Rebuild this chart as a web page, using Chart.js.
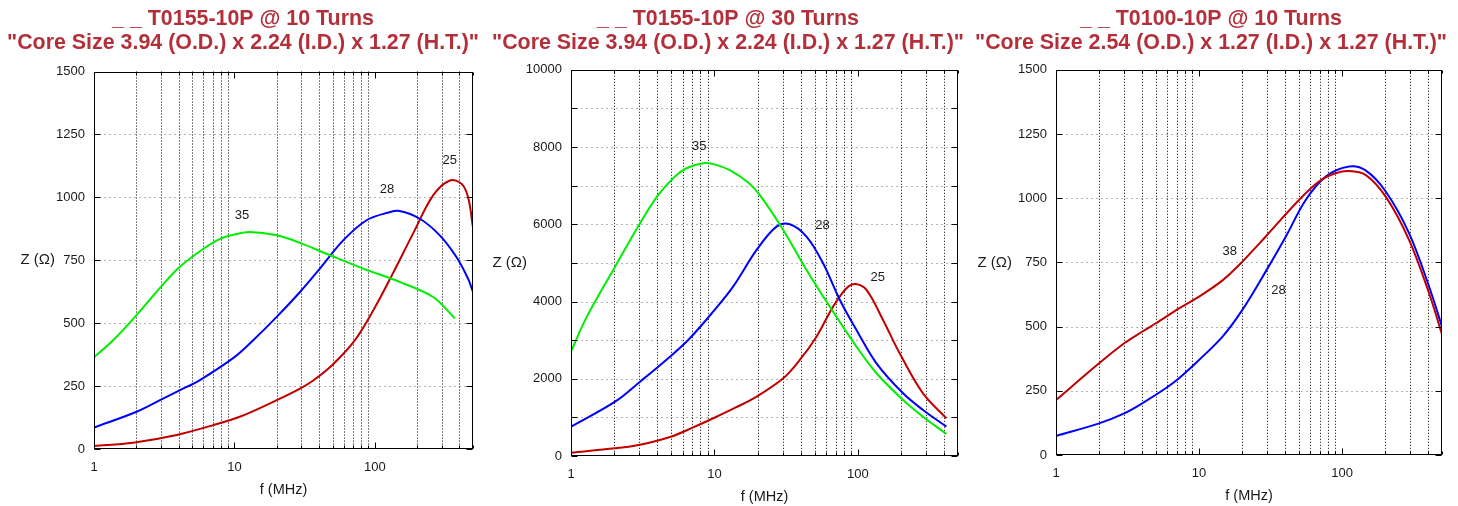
<!DOCTYPE html>
<html><head><meta charset="utf-8">
<script src="https://cdn.jsdelivr.net/npm/chart.js@4/dist/chart.umd.min.js"></script>
<style>
html,body{margin:0;padding:0;background:#fff;width:1458px;height:506px;overflow:hidden;}
canvas{position:absolute;top:0;}
</style></head><body>
<canvas id="c1" width="486" height="506" style="left:0px"></canvas>
<canvas id="c2" width="486" height="506" style="left:485px"></canvas>
<canvas id="c3" width="486" height="506" style="left:968px"></canvas>
<script>
// ---------- tick labels ----------
const xTickValues = [1,2,3,4,5,6,7,8,9,10,20,30,40,50,60,70,80,90,100,200,300,400,500];
const xMajorLabels = [1,10,100];

// ---------- Chart 1 : T0155-10P @ 10 Turns ----------
const c1Title = ['_ _ T0155-10P @ 10 Turns', '"Core Size 3.94 (O.D.) x 2.24 (I.D.) x 1.27 (H.T.)"'];
const c1F35 = [1, 1.37, 1.96, 2.95, 4.1, 6.0, 7.9, 10, 12.9, 20, 29.3, 47.9, 82.6, 150, 260, 371];
const c1Z35 = [365, 432, 525, 640, 725, 795, 835, 852, 862, 849, 819, 770, 717, 664, 604, 519];
const c1F28 = [1, 2.01, 2.95, 4.1, 5.68, 10, 13.6, 20, 29.3, 40.6, 59.5, 87.3, 125, 150, 209, 290, 381, 461, 500];
const c1Z28 = [85, 148, 194, 234, 274, 365, 432, 525, 624, 717, 829, 909, 940, 946, 915, 849, 763, 677, 624];
const c1F25 = [1, 1.9, 3.88, 7.07, 10.9, 20, 29.3, 36.4, 50, 72, 97.3, 135, 187, 260, 342, 414, 461, 500];
const c1Z25 = [12, 25, 56, 95, 128, 194, 240, 272, 335, 432, 550, 700, 856, 1008, 1067, 1054, 1001, 880];
const c1LabelText = ['35', '28', '25'];
const c1LabelF = [11.3, 122, 342];
const c1LabelZ = [928, 1032, 1147];

// ---------- Chart 2 : T0155-10P @ 30 Turns ----------
const c2Title = ['_ _ T0155-10P @ 30 Turns', '"Core Size 3.94 (O.D.) x 2.24 (I.D.) x 1.27 (H.T.)"'];
const c2F35 = [1, 1.29, 2.03, 3.03, 4.06, 5.3, 6.4, 8.36, 10, 12.8, 17.2, 20.7, 30.2, 43.9, 63.8, 97.9, 135, 207, 285, 415];
const c2Z35 = [2701, 3608, 4903, 6027, 6760, 7234, 7451, 7581, 7550, 7400, 7080, 6760, 5853, 4817, 3867, 2831, 2142, 1450, 1018, 570];
const c2F28 = [1, 2.03, 3.03, 4.9, 6.75, 9.8, 13.5, 19.7, 27.1, 33.6, 43.9, 57.3, 75, 97.9, 135, 207, 285, 415];
const c2Z28 = [759, 1406, 1924, 2572, 3050, 3737, 4385, 5335, 5939, 6000, 5680, 4991, 4040, 3263, 2400, 1623, 1191, 759];
const c2F25 = [1, 2.03, 3.03, 4.9, 7.1, 10, 14, 19.7, 30.2, 39.4, 51.5, 67.3, 83.4, 96.4, 115, 150, 196, 285, 415];
const c2Z25 = [86, 198, 290, 490, 740, 990, 1250, 1536, 2012, 2486, 3090, 3867, 4343, 4455, 4300, 3522, 2660, 1623, 976];
const c2LabelText = ['35', '28', '25'];
const c2LabelF = [7.84, 56.8, 138];
const c2LabelZ = [8003, 5983, 4618];

// ---------- Chart 3 : T0100-10P @ 10 Turns ----------
const c3Title = ['_ _ T0100-10P @ 10 Turns', '"Core Size 2.54 (O.D.) x 1.27 (I.D.) x 1.27 (H.T.)"'];
const c3F38 = [1, 2, 3, 4, 5, 7.25, 10, 14.6, 20.1, 29.3, 50, 69, 90, 112, 146, 202, 294, 406, 500];
const c3Z38 = [214, 357, 435, 480, 513, 571, 617, 680, 753, 851, 993, 1065, 1097, 1106, 1091, 1006, 838, 630, 470];
const c3F28 = [1, 2, 3, 4, 5.85, 7.25, 10, 14.6, 20.1, 29.3, 40.4, 55.7, 76.9, 112, 146, 202, 294, 406, 500];
const c3Z28 = [74, 123, 162, 201, 260, 299, 370, 461, 565, 715, 850, 993, 1084, 1123, 1108, 1026, 864, 656, 500];
const c3LabelText = ['38', '28'];
const c3LabelF = [16.4, 35.9];
const c3LabelZ = [792, 640];

// ---------- styling ----------
const GREEN = '#00ee00', BLUE = '#0000ff', RED = '#c00000';
const TITLE_COLOR = '#b3303a';
const TEXT = '#1a1a1a';
const FONT = '"Liberation Sans", Arial, Helvetica, sans-serif';
Chart.defaults.font.family = FONT;
Chart.defaults.color = TEXT;

const pts = (fs, zs) => fs.map((f, i) => ({x: f, y: zs[i]}));

const gnuPlugin = {
  id: 'gnu',
  beforeDatasetsDraw(chart, args, o) {
    const {ctx, chartArea: a, scales: {x, y}} = chart;
    ctx.save();
    ctx.lineWidth = 1;
    ctx.strokeStyle = '#b4b4b4';
    ctx.setLineDash([2, 3]);
    y.ticks.forEach(t => {
      if (t.value <= y.min || t.value >= y.max) return;
      const py = Math.round(y.getPixelForValue(t.value)) + 0.5;
      ctx.beginPath(); ctx.moveTo(a.left, py); ctx.lineTo(a.right, py); ctx.stroke();
    });
    ctx.strokeStyle = '#000';
    ctx.setLineDash([1, 2]);
    x.ticks.forEach(t => {
      if (xMajorLabels.includes(t.value) || t.value >= x.max) return;
      const px = Math.round(x.getPixelForValue(t.value)) + 0.5;
      ctx.beginPath(); ctx.moveTo(px, a.top); ctx.lineTo(px, a.bottom); ctx.stroke();
    });
    ctx.restore();
  },
  afterDatasetsDraw(chart, args, o) {
    const {ctx, chartArea: a, scales: {x, y}} = chart;
    ctx.save();
    ctx.setLineDash([]);
    ctx.strokeStyle = '#000';
    ctx.lineWidth = 1;
    const L = Math.round(a.left) + 0.5, R = Math.round(a.right) - 0.5;
    const T = Math.round(a.top) + 0.5, B = Math.round(a.bottom) - 0.5;
    ctx.strokeRect(L, T, R - L, B - T);
    ctx.beginPath();
    y.ticks.forEach(t => {
      const py = Math.round(y.getPixelForValue(t.value)) + 0.5;
      ctx.moveTo(L, py); ctx.lineTo(L + 6, py);
      ctx.moveTo(R, py); ctx.lineTo(R - 6, py);
    });
    x.ticks.forEach(t => {
      const px = Math.round(x.getPixelForValue(t.value)) + 0.5;
      const len = xMajorLabels.includes(t.value) ? 6 : 3;
      ctx.moveTo(px, B); ctx.lineTo(px, B - len);
      ctx.moveTo(px, T); ctx.lineTo(px, T + len);
    });
    ctx.stroke();
    // curve labels
    ctx.fillStyle = TEXT;
    ctx.font = '13px ' + FONT;
    ctx.textAlign = 'center';
    ctx.textBaseline = 'middle';
    o.labelText.forEach((s, i) => {
      ctx.fillText(s, x.getPixelForValue(o.labelF[i]), y.getPixelForValue(o.labelZ[i]));
    });
    // horizontal y-axis title
    ctx.font = '15px ' + FONT;
    ctx.textAlign = 'right';
    ctx.fillText('Z (\u03A9)', o.yTitleRight, (a.top + a.bottom) / 2);
    ctx.restore();
  }
};

function makeChart(id, cfg) {
  return new Chart(document.getElementById(id), {
    type: 'line',
    data: {
      datasets: cfg.series.map(s => ({
        data: pts(s.f, s.z), borderColor: s.color, borderWidth: 2,
        pointRadius: 0, tension: 0.35, fill: false, xAxisID: 'x', yAxisID: 'y'
      }))
    },
    options: {
      responsive: false, animation: false, devicePixelRatio: 1,
      layout: {padding: 0},
      plugins: {
        legend: {display: false}, tooltip: {enabled: false},
        title: {
          display: true, text: cfg.title, color: TITLE_COLOR,
          font: {size: 21.4, weight: 'bold', lineHeight: 1.093, family: FONT},
          padding: {top: 7.75, bottom: cfg.titleBottom}
        },
        gnu: {labelText: cfg.labelText, labelF: cfg.labelF, labelZ: cfg.labelZ, yTitleRight: cfg.yTitleRight}
      },
      scales: {
        x: {
          type: 'logarithmic', min: 1, max: 500,
          grid: {display: false, drawTicks: false}, border: {display: false},
          afterBuildTicks: sc => { sc.ticks = xTickValues.map(v => ({value: v})); },
          afterFit: sc => { sc.height = cfg.xHeight; },
          ticks: {
            autoSkip: false, maxRotation: 0, minRotation: 0, padding: 11, color: TEXT,
            font: {size: 13},
            callback: v => xMajorLabels.includes(v) ? String(v) : ''
          },
          title: {display: true, text: 'f (MHz)', color: TEXT, font: {size: 14.5}, padding: {top: 0, bottom: cfg.xTitleBottom}}
        },
        y: {
          type: 'linear', position: 'left', min: 0, max: cfg.yMax,
          grid: {display: false, drawTicks: false}, border: {display: false},
          afterFit: sc => { sc.width = cfg.yWidth; },
          ticks: {
            stepSize: cfg.yStep, padding: 9, color: TEXT, font: {size: 13},
            callback: v => (v % cfg.yLabelStep === 0 ? String(v) : '')
          }
        },
        yr: {
          type: 'linear', position: 'right', min: 0, max: cfg.yMax, display: true,
          grid: {display: false, drawTicks: false}, border: {display: false},
          ticks: {display: false},
          afterFit: sc => { sc.width = cfg.rightWidth; }
        }
      }
    },
    plugins: [gnuPlugin]
  });
}

makeChart('c1', {
  title: c1Title, titleBottom: 17, yWidth: 94, rightWidth: 13, xHeight: 57, xTitleBottom: 7,
  yMax: 1500, yStep: 250, yLabelStep: 250, yTitleRight: 55,
  series: [{f: c1F35, z: c1Z35, color: GREEN}, {f: c1F28, z: c1Z28, color: BLUE}, {f: c1F25, z: c1Z25, color: RED}],
  labelText: c1LabelText, labelF: c1LabelF, labelZ: c1LabelZ
});
makeChart('c2', {
  title: c2Title, titleBottom: 15.25, yWidth: 86, rightWidth: 13, xHeight: 50, xTitleBottom: 0,
  yMax: 10000, yStep: 1000, yLabelStep: 2000, yTitleRight: 42,
  series: [{f: c2F35, z: c2Z35, color: GREEN}, {f: c2F28, z: c2Z28, color: BLUE}, {f: c2F25, z: c2Z25, color: RED}],
  labelText: c2LabelText, labelF: c2LabelF, labelZ: c2LabelZ
});
makeChart('c3', {
  title: c3Title, titleBottom: 15.25, yWidth: 88, rightWidth: 12, xHeight: 51, xTitleBottom: 1.5,
  yMax: 1500, yStep: 250, yLabelStep: 250, yTitleRight: 44,
  series: [{f: c3F38, z: c3Z38, color: RED}, {f: c3F28, z: c3Z28, color: BLUE}],
  labelText: c3LabelText, labelF: c3LabelF, labelZ: c3LabelZ
});
</script>
</body></html>
